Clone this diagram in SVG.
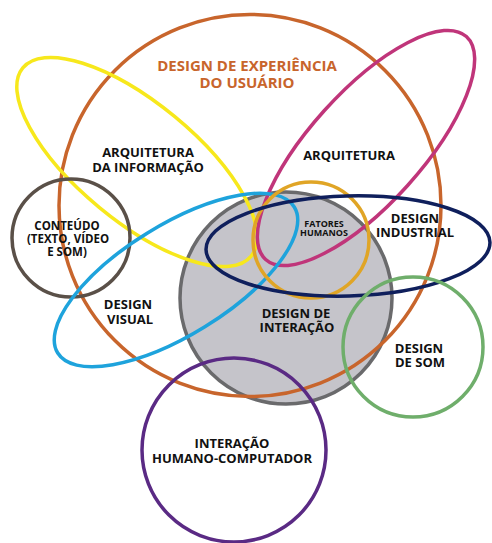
<svg xmlns="http://www.w3.org/2000/svg" width="492" height="543" viewBox="0 0 492 543">
<style>
.s{fill:none;stroke-width:3.5}
text{font-family:"Open Sans","DejaVu Sans",sans-serif;font-weight:700;text-anchor:middle;fill:#111}
.t{font-size:13px}
.ux{font-size:15px;fill:#c8652c}
.sm{font-size:9px}
.c{font-size:11.5px}
</style>
<rect width="492" height="543" fill="#fff"/>
<g id="design-interacao">
<circle cx="286" cy="298" r="106" fill="#c5c4ca" stroke="#6a6a6c" stroke-width="3.5"/>
<text class="t" x="296" y="318">DESIGN DE</text>
<text class="t" x="297" y="332">INTERAÇÃO</text>
</g>
<g id="ux">
<circle class="s" cx="250" cy="205.5" r="191" stroke="#c8652c"/>
<text class="ux" x="247" y="71">DESIGN DE EXPERIÊNCIA</text>
<text class="ux" x="247" y="88">DO USUÁRIO</text>
</g>
<g id="arq-info">
<ellipse class="s" cx="137" cy="162" rx="148" ry="59" transform="rotate(39.5 137 162)" stroke="#f7e81c"/>
<text class="t" x="148" y="157">ARQUITETURA</text>
<text class="t" x="148" y="172">DA INFORMAÇÃO</text>
</g>
<g id="arquitetura">
<ellipse class="s" cx="366" cy="148" rx="150" ry="56" transform="rotate(-48 366 148)" stroke="#c0357a"/>
<text class="t" x="349" y="160">ARQUITETURA</text>
</g>
<g id="conteudo">
<circle class="s" cx="71" cy="238" r="59" stroke="#5a5048"/>
<text class="c" x="67" y="230">CONTEÚDO</text>
<text class="c" x="68" y="243">(TEXTO, VÍDEO</text>
<text class="c" x="67" y="256">E SOM)</text>
</g>
<g id="design-visual">
<ellipse class="s" cx="176" cy="280" rx="139" ry="55" transform="rotate(-31.7 176 280)" stroke="#1ea3dc"/>
<text class="t" x="128" y="309">DESIGN</text>
<text class="t" x="130" y="324">VISUAL</text>
</g>
<g id="fatores">
<circle class="s" cx="311" cy="240" r="58" stroke="#e0a526"/>
<text class="sm" x="324" y="227">FATORES</text>
<text class="sm" x="324" y="236">HUMANOS</text>
</g>
<g id="design-industrial">
<ellipse class="s" cx="348" cy="246" rx="142" ry="50" transform="rotate(-1.5 348 246)" stroke="#0f1f5c" stroke-width="4"/>
<text class="t" x="415" y="223">DESIGN</text>
<text class="t" x="415" y="237">INDUSTRIAL</text>
</g>
<g id="design-som">
<circle class="s" cx="413" cy="347" r="70" stroke="#6fae6b"/>
<text class="t" x="419" y="353">DESIGN</text>
<text class="t" x="420" y="367">DE SOM</text>
</g>
<g id="ihc">
<circle class="s" cx="234" cy="450" r="92" stroke="#5a2a84"/>
<text class="t" x="232" y="448">INTERAÇÃO</text>
<text class="t" x="232" y="463">HUMANO-COMPUTADOR</text>
</g>
<g id="connectors"/>
</svg>
